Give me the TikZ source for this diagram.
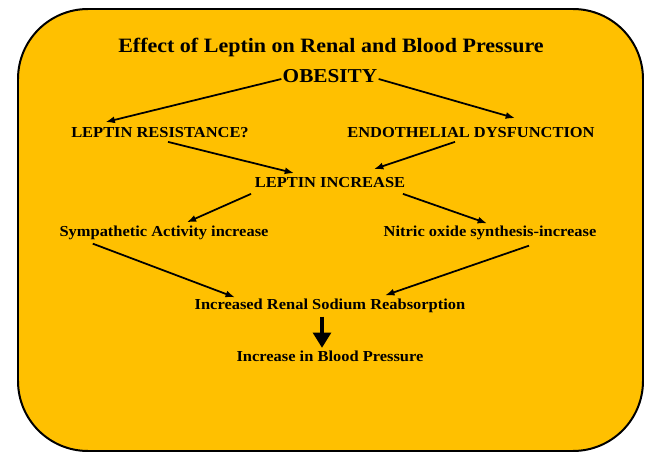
\documentclass[tikz,border=0pt]{standalone}
\usepackage{fontspec}
\setmainfont{Liberation Serif}[FakeStretch=1.08]
\usetikzlibrary{arrows.meta,calc}
\definecolor{boxgold}{HTML}{FFC000}
\tikzset{
  lbl/.style={font=\fontsize{13}{15}\selectfont\bfseries, inner sep=3pt},
  flow/.style={-{Latex[length=8pt,width=6pt]}, line width=1.5pt},
  bigflow/.style={-{Triangle[length=13pt,width=15pt]}, line width=4pt},
}
\begin{document}
\begin{tikzpicture}[x=0.03cm,y=-0.03cm]
    \useasboundingbox (0,0) rectangle (659,453);

    % rounded background box
    \draw[line width=1.7pt, fill=boxgold, rounded corners=2.1cm] (18,9) rectangle (643,451);

    % title and top cause
    \node[font=\fontsize{17.4}{20}\selectfont\bfseries] (title) at (331,47) {Effect of Leptin on Renal and Blood Pressure};
    \node[font=\fontsize{16.8}{19}\selectfont\bfseries, inner sep=1pt] (obesity) at (330,76) {OBESITY};

    % second level
    \node[lbl] (lr) at (160,133) {LEPTIN RESISTANCE?};
    \node[lbl] (ed) at (471,133) {ENDOTHELIAL DYSFUNCTION};

    % middle
    \node[lbl] (li) at (330,183) {LEPTIN INCREASE};

    % effects of leptin
    \node[lbl] (sym) at (164,233) {Sympathetic Activity increase};
    \node[lbl] (no) at (490,233) {Nitric oxide synthesis-increase};

    % kidney and outcome
    \node[lbl] (renal) at (330,306) {Increased Renal Sodium Reabsorption};
    \node[lbl] (bp) at (330,356) {Increase in Blood Pressure};

    % arrows from obesity
    \draw[flow] ($(obesity.west)+(0,3)$) -- ($(lr.north west)+(38,-2)$);
    \draw[flow] ($(obesity.east)+(0,3)$) -- ($(ed.north)+(44,-6)$);

    % arrows into leptin increase
    \draw[flow] ($(lr.south)+(8,0)$) -- ($(li.north west)+(43,-1)$);
    \draw[flow] ($(ed.south)+(-16,0)$) -- ($(li.north east)+(-35,-5)$);

    % arrows out of leptin increase
    \draw[flow] ($(li.south west)+(0,2)$) -- ($(sym.north west)+(131,0)$);
    \draw[flow] ($(li.south east)+(-6,2)$) -- ($(no.north)+(-3,1)$);

    % arrows into renal sodium
    \draw[flow] ($(sym.south west)+(37,0)$) -- ($(renal.north west)+(44,2)$);
    \draw[flow] ($(no.south)+(39,2)$) -- ($(renal.north east)+(-84,0)$);

    % thick arrow to blood pressure
    \draw[bigflow] ($(renal.south)+(-8,0)$) -- ($(bp.north)+(-8,1)$);
\end{tikzpicture}
\end{document}
